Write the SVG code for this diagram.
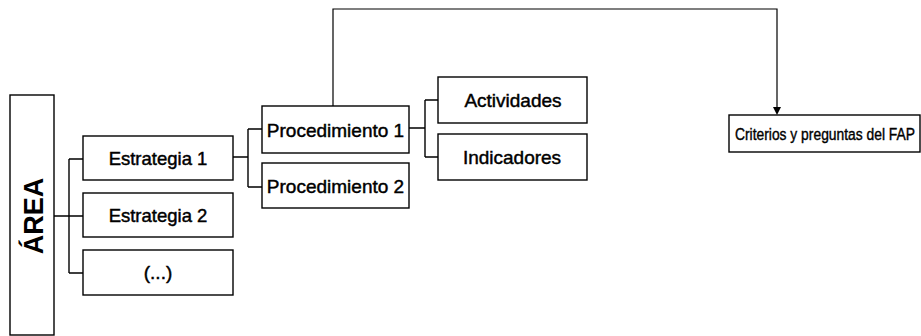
<svg xmlns="http://www.w3.org/2000/svg" width="921" height="336" viewBox="0 0 921 336">
<defs>
<style>
.box{fill:#fff;stroke:#000;stroke-width:1.4}
.lbl{font-family:"Liberation Sans",Arial,sans-serif;font-size:19px;fill:#000;stroke:#000;stroke-width:0.45;text-anchor:middle}
.con{fill:none;stroke:#000;stroke-width:1.4}
</style>
</defs>
<rect width="921" height="336" fill="#fff"/>
<g id="connectors">
<path class="con" d="M54,216 H69 M69,159 V273 M69,159 H83 M69,216 H83 M69,273 H83"/>
<path class="con" d="M233,157 H248 M248,129 V187 M248,129 H262 M248,187 H262"/>
<path class="con" d="M409,128 H425 M425,100 V157 M425,100 H438 M425,157 H438"/>
<path class="con" d="M333,106 V9 H777 V108" style="stroke-width:1.2"/>
<path d="M773,107 L781,107 L777,115 Z" fill="#000"/>
</g>
<g id="area">
<rect class="box" x="10" y="95" width="44" height="240"/>
<text class="lbl" transform="translate(43,216) rotate(-90)" style="font-size:27px;font-weight:bold;stroke-width:0">ÁREA</text>
</g>
<g id="estrategia1">
<rect class="box" x="83" y="136" width="150" height="44"/>
<text class="lbl" x="158" y="165" style="font-size:18.5px">Estrategia 1</text>
</g>
<g id="estrategia2">
<rect class="box" x="83" y="193" width="150" height="44"/>
<text class="lbl" x="158" y="222" style="font-size:18.5px">Estrategia 2</text>
</g>
<g id="etc">
<rect class="box" x="83" y="250" width="150" height="45"/>
<text class="lbl" x="158" y="279">(...)</text>
</g>
<g id="procedimiento1">
<rect class="box" x="262" y="106" width="147" height="47"/>
<text class="lbl" x="335.5" y="136.5">Procedimiento 1</text>
</g>
<g id="procedimiento2">
<rect class="box" x="262" y="163" width="147" height="45"/>
<text class="lbl" x="335.5" y="192.5">Procedimiento 2</text>
</g>
<g id="actividades">
<rect class="box" x="438" y="77" width="149" height="46"/>
<text class="lbl" x="513" y="106.5">Actividades</text>
</g>
<g id="indicadores">
<rect class="box" x="438" y="134" width="149" height="46"/>
<text class="lbl" x="512" y="163.5">Indicadores</text>
</g>
<g id="criterios">
<rect class="box" x="729" y="115" width="191" height="37"/>
<text class="lbl" transform="translate(825,140) scale(0.84,1)" style="font-size:16.5px;stroke-width:0.4">Criterios y preguntas del FAP</text>
</g>
</svg>
